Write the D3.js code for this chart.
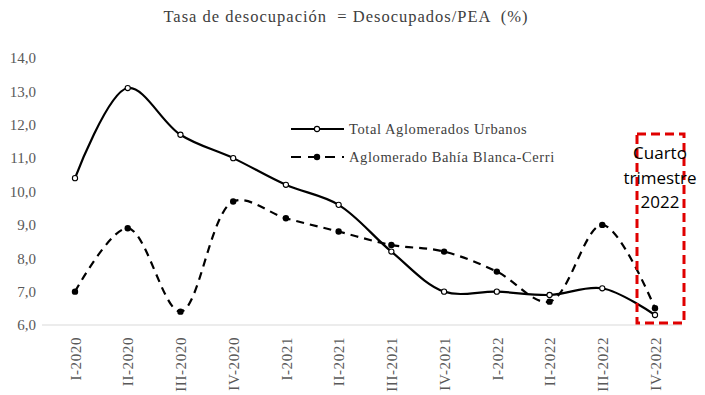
<!DOCTYPE html>
<html>
<head>
<meta charset="utf-8">
<script src="https://cdn.jsdelivr.net/npm/d3@7"></script>
<style>
  body { margin: 0; background: #fff; }
  svg { display: block; }
  .serif { font-family: "Liberation Serif", "Times New Roman", Tinos, "DejaVu Serif", serif; }
</style>
</head>
<body>
<div id="chart"></div>
<script>
// quarters on the x axis
var trimestres = ["I-2020", "II-2020", "III-2020", "IV-2020",
                  "I-2021", "II-2021", "III-2021", "IV-2021",
                  "I-2022", "II-2022", "III-2022", "IV-2022"];
// unemployment rate (%)
var totalAglomerados = [10.4, 13.1, 11.7, 11.0, 10.2, 9.6, 8.2, 7.0, 7.0, 6.9, 7.1, 6.3];
var bahiaBlanca = [7.0, 8.9, 6.4, 9.7, 9.2, 8.8, 8.4, 8.2, 7.6, 6.7, 9.0, 6.5];
var yTicks = [6, 7, 8, 9, 10, 11, 12, 13, 14];
var titulo = "Tasa de desocupación  = Desocupados/PEA  (%)";
var nombres = ["Total Aglomerados Urbanos", "Aglomerado Bahía Blanca-Cerri"];
var nota = ["Cuarto", "trimestre", "2022"];

var W = 705, H = 395;
var svg = d3.select("#chart").append("svg").attr("width", W).attr("height", H);

var x = d3.scalePoint().domain(trimestres).range([75, 655]);
var y = d3.scaleLinear().domain([6, 14]).range([325, 58]);

// title
svg.append("text")
    .attr("class", "serif")
    .attr("x", 346).attr("y", 22)
    .attr("text-anchor", "middle")
    .attr("xml:space", "preserve")
    .style("font-size", "16.5px").style("white-space", "pre")
    .style("letter-spacing", "1px")
    .attr("fill", "#404040")
    .text(titulo);

// y axis labels
var yAxis = d3.axisLeft(y).tickValues(yTicks)
    .tickFormat(function(d) { return d3.format(".1f")(d).replace(".", ","); })
    .tickSize(0).tickPadding(0);
var gy = svg.append("g").attr("transform", "translate(36,0)").call(yAxis)
    .attr("font-family", null).attr("font-size", null);
gy.select(".domain").remove();
gy.selectAll("text")
    .attr("class", "serif")
    .style("font-size", "15px")
    .attr("fill", "#595959");

// baseline
svg.append("line")
    .attr("x1", 42).attr("x2", 682)
    .attr("y1", y(6)).attr("y2", y(6))
    .attr("stroke", "#d9d9d9").attr("stroke-width", 1);

// x axis labels (rotated)
var xAxis = d3.axisBottom(x).tickSize(0).tickPadding(0);
var gx = svg.append("g").attr("transform", "translate(0," + (y(6) + 12) + ")").call(xAxis)
    .attr("font-family", null).attr("font-size", null);
gx.select(".domain").remove();
gx.selectAll("text")
    .attr("class", "serif")
    .attr("transform", "rotate(-90)")
    .attr("text-anchor", "end")
    .attr("x", 0).attr("y", 0).attr("dy", "0.35em")
    .style("font-size", "15px")
    .style("letter-spacing", "0.6px")
    .attr("fill", "#595959");

var line = d3.line()
    .x(function(d, i) { return x(trimestres[i]); })
    .y(function(d) { return y(d); })
    .curve(d3.curveCatmullRom.alpha(0.5));

svg.append("path").datum(bahiaBlanca)
    .attr("d", line).attr("fill", "none")
    .attr("stroke", "#000").attr("stroke-width", 2.2)
    .attr("stroke-dasharray", "8,6");

svg.append("path").datum(totalAglomerados)
    .attr("d", line).attr("fill", "none")
    .attr("stroke", "#000").attr("stroke-width", 2.2);

svg.append("g").selectAll("circle").data(bahiaBlanca).enter().append("circle")
    .attr("cx", function(d, i) { return x(trimestres[i]); })
    .attr("cy", function(d) { return y(d); })
    .attr("r", 3.2).attr("fill", "#000");

svg.append("g").selectAll("circle").data(totalAglomerados).enter().append("circle")
    .attr("cx", function(d, i) { return x(trimestres[i]); })
    .attr("cy", function(d) { return y(d); })
    .attr("r", 2.6).attr("fill", "#fff").attr("stroke", "#000").attr("stroke-width", 1.1);

// legend
var leg = svg.append("g");
[0, 1].forEach(function(k) {
    var ly = 129 + k * 28;
    leg.append("line")
        .attr("x1", 291).attr("x2", 344).attr("y1", ly).attr("y2", ly)
        .attr("stroke", "#000").attr("stroke-width", 2.2)
        .attr("stroke-dasharray", k == 1 ? "10,7" : null);
    leg.append("circle").attr("cx", 317).attr("cy", ly)
        .attr("r", k == 1 ? 3.2 : 2.6)
        .attr("fill", k == 1 ? "#000" : "#fff")
        .attr("stroke", "#000").attr("stroke-width", k == 1 ? 0 : 1.1);
    leg.append("text")
        .attr("class", "serif")
        .attr("x", 349).attr("y", ly + 5)
        .style("font-size", "14.5px")
        .style("letter-spacing", "0.6px")
        .attr("fill", "#404040")
        .text(nombres[k]);
});

// highlight box for last quarter
svg.append("rect")
    .attr("x", 637).attr("y", 134)
    .attr("width", 47).attr("height", 189)
    .attr("fill", "none").attr("stroke", "#e00000")
    .attr("stroke-width", 3).attr("stroke-dasharray", "9,5");

svg.append("g").selectAll("text").data(nota).enter().append("text")
    .attr("x", 660)
    .attr("y", function(d, i) { return 159 + i * 24.5; })
    .attr("text-anchor", "middle")
    .style("font-family", "'Open Sans', 'Liberation Sans', sans-serif")
    .style("font-size", "17px")
    .attr("fill", "#000")
    .text(function(d) { return d; });
</script>
</body>
</html>
